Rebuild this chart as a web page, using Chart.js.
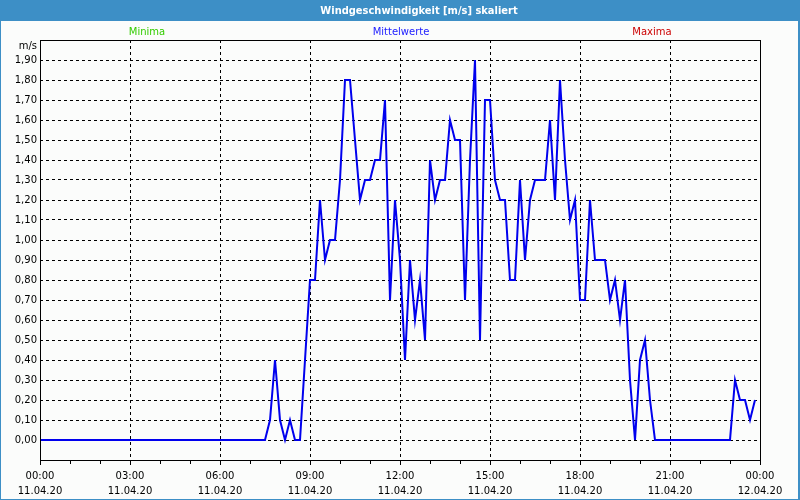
<!DOCTYPE html>
<html>
<head>
<meta charset="utf-8">
<script src="https://cdn.jsdelivr.net/npm/chart.js@4/dist/chart.umd.min.js"></script>
<style>
  html, body { margin: 0; padding: 0; background: #fbfcfb; }
  #wrap { position: relative; width: 800px; height: 500px; }
  canvas { display: block; }
</style>
</head>
<body>
<div id="wrap"><canvas id="c" width="800" height="500"></canvas></div>
<script>
// ---- data ----
const chartTitle = "Windgeschwindigkeit [m/s] skaliert";
const legendLabels = ["Minima", "Mittelwerte", "Maxima"];
const yUnit = "m/s";
const stepMinutes = 10; // one value every 10 minutes, starting 00:00
const meanValues = [
  0,0,0,0,0,0,0,0,0,0, 0,0,0,0,0,0,0,0,0,0,
  0,0,0,0,0,0,0,0,0,0, 0,0,0,0,0,0,0,0,0,0,
  0,0,0,0,0,0,0.1,0.4,0.1,0, 0.1,0,0,0.4,0.8,0.8,1.2,0.9,1.0,1.0,
  1.3,1.8,1.8,1.5,1.2,1.3,1.3,1.4,1.4,1.7, 0.7,1.2,0.9,0.4,0.9,0.6,0.8,0.5,1.4,1.2,
  1.3,1.3,1.6,1.5,1.5,0.7,1.4,1.9,0.5,1.7, 1.7,1.3,1.2,1.2,0.8,0.8,1.3,0.9,1.2,1.3,
  1.3,1.3,1.6,1.2,1.8,1.4,1.1,1.2,0.7,0.7, 1.2,0.9,0.9,0.9,0.7,0.8,0.6,0.8,0.3,0,
  0.4,0.5,0.2,0,0,0,0,0,0,0, 0,0,0,0,0,0,0,0,0,0.3,
  0.2,0.2,0.1,0.2
];
const yTickValues = [0,0.1,0.2,0.3,0.4,0.5,0.6,0.7,0.8,0.9,1.0,1.1,1.2,1.3,1.4,1.5,1.6,1.7,1.8,1.9];
const xTickMinutes = [0,180,360,540,720,900,1080,1260,1440];
const xTickLabels = [
  ["00:00","11.04.20"],["03:00","11.04.20"],["06:00","11.04.20"],["09:00","11.04.20"],
  ["12:00","11.04.20"],["15:00","11.04.20"],["18:00","11.04.20"],["21:00","11.04.20"],
  ["00:00","12.04.20"]
];
const xMinorTickMinutes = [60,120,240,300,420,480,600,660,780,840,960,1020,1140,1200,1320,1380];

const points = meanValues.map((v, i) => ({ x: i * stepMinutes, y: v }));

const FONT = "'DejaVu Sans', Verdana, sans-serif";

const decor = {
  id: 'decor',
  beforeDraw(chart) {
    const ctx = chart.ctx;
    ctx.save();
    ctx.fillStyle = '#fbfcfb';
    ctx.fillRect(0, 0, 800, 500);
    ctx.restore();
  },
  afterDraw(chart) {
    const ctx = chart.ctx;
    const a = chart.chartArea;
    const xs = chart.scales.x;
    ctx.save();
    // title bar
    ctx.fillStyle = '#3d8fc6';
    ctx.fillRect(0, 0, 800, 21);
    ctx.fillStyle = '#ffffff';
    ctx.font = "bold 11px 'DejaVu Sans Condensed', 'DejaVu Sans', sans-serif";
    ctx.textAlign = 'center';
    ctx.textBaseline = 'middle';
    ctx.fillText(chartTitle, 419, 11);
    // outer frame
    ctx.fillStyle = '#3d8fc6';
    ctx.fillRect(0, 0, 1, 500);
    ctx.fillRect(798, 0, 2, 500);
    ctx.fillRect(0, 499, 800, 1);
    // legend labels
    ctx.font = "10px " + FONT;
    ctx.fillStyle = '#33cc00';
    ctx.fillText(legendLabels[0], 147, 32);
    ctx.fillStyle = '#2020ff';
    ctx.fillText(legendLabels[1], 401, 32);
    ctx.fillStyle = '#cc0000';
    ctx.fillText(legendLabels[2], 652, 32);
    // unit
    ctx.fillStyle = '#000000';
    ctx.textAlign = 'right';
    ctx.fillText(yUnit, a.left - 3, a.top + 6);
    // plot border
    ctx.strokeStyle = '#000000';
    ctx.lineWidth = 1;
    ctx.setLineDash([]);
    ctx.strokeRect(Math.round(a.left) + 0.5, Math.round(a.top) + 0.5,
                   Math.round(a.right - a.left), Math.round(a.bottom - a.top));
    // x ticks
    ctx.beginPath();
    xTickMinutes.forEach(m => {
      const px = Math.round(xs.getPixelForValue(m)) + 0.5;
      ctx.moveTo(px, a.bottom); ctx.lineTo(px, a.bottom + 5);
    });
    xMinorTickMinutes.forEach(m => {
      const px = Math.round(xs.getPixelForValue(m)) + 0.5;
      ctx.moveTo(px, a.bottom); ctx.lineTo(px, a.bottom + 4);
    });
    ctx.stroke();
    ctx.restore();
  }
};

new Chart(document.getElementById('c'), {
  type: 'line',
  data: {
    datasets: [{
      label: legendLabels[1],
      data: points,
      borderColor: '#0000ee',
      borderWidth: 2,
      pointRadius: 0,
      tension: 0,
      fill: false
    }]
  },
  options: {
    responsive: false,
    animation: false,
    events: [],
    layout: { padding: { top: 40, right: 40, left: 0, bottom: 0 } },
    plugins: { legend: { display: false }, tooltip: { enabled: false }, title: { display: false } },
    scales: {
      x: {
        type: 'linear',
        min: 0, max: 1440,
        afterBuildTicks(scale) { scale.ticks = xTickMinutes.map(v => ({ value: v })); },
        afterFit(scale) { scale.height = 40; },
        ticks: {
          autoSkip: false,
          maxRotation: 0,
          padding: 4,
          color: '#000000',
          font: { family: FONT, size: 10, lineHeight: 1.5 },
          callback(value) {
            const i = xTickMinutes.indexOf(value);
            return i >= 0 ? xTickLabels[i] : '';
          }
        },
        grid: { color: '#000000', lineWidth: 1, drawTicks: true, tickLength: 5, tickColor: 'rgba(0,0,0,0)' },
        border: { display: false, dash: [3, 3] }
      },
      y: {
        type: 'linear',
        min: -0.1, max: 2.0,
        afterBuildTicks(scale) { scale.ticks = yTickValues.map(v => ({ value: v })); },
        afterFit(scale) { scale.width = 40; },
        ticks: {
          padding: 3,
          color: '#000000',
          font: { family: FONT, size: 10 },
          callback(value) { return value.toFixed(2).replace('.', ','); }
        },
        grid: { color: '#000000', lineWidth: 1, drawTicks: false },
        border: { display: false, dash: [3, 3] }
      }
    }
  },
  plugins: [decor]
});
</script>
</body>
</html>
